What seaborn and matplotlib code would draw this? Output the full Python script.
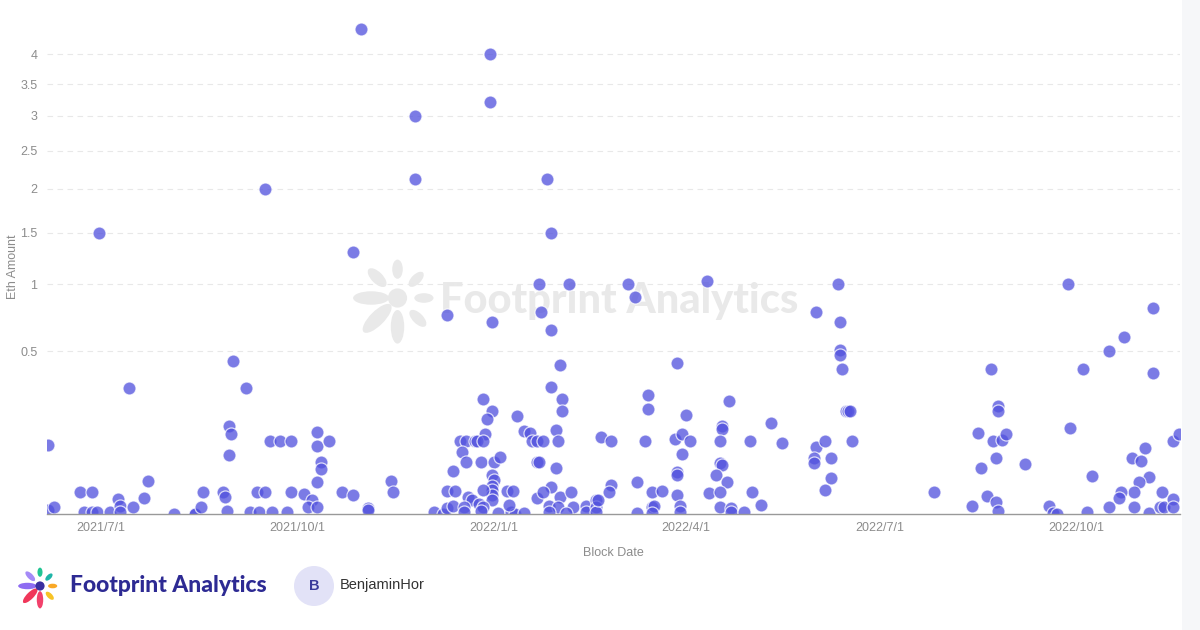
import numpy as np
import pandas as pd
import matplotlib.pyplot as plt
from matplotlib.patches import Ellipse, Circle, Rectangle
import seaborn as sns

# Block dates and eth amounts (one line of dates per line of values)
block_dates = [
    "2021-06-06", "2021-06-06", "2021-06-09", "2021-06-21", "2021-06-27", "2021-06-23", "2021-06-27", "2021-06-29",
    "2021-07-05", "2021-07-09", "2021-07-10", "2021-07-10", "2021-07-16", "2021-07-21", "2021-07-23", "2021-07-14", "2021-06-30",
    "2021-08-04", "2021-08-14", "2021-08-14", "2021-08-17", "2021-08-18", "2021-08-27", "2021-08-28", "2021-08-29",
    "2021-08-30", "2021-08-31", "2021-08-30", "2021-09-01", "2021-09-07", "2021-09-09", "2021-09-13", "2021-09-12",
    "2021-09-16", "2021-09-19", "2021-09-18", "2021-09-23", "2021-09-28", "2021-09-26", "2021-09-28", "2021-09-16",
    "2021-10-10", "2021-10-10", "2021-10-16", "2021-10-12", "2021-10-12", "2021-10-10", "2021-10-04", "2021-10-08",
    "2021-10-06", "2021-10-10", "2021-10-22", "2021-10-27", "2021-11-03", "2021-11-03", "2021-11-14", "2021-11-15",
    "2021-10-27", "2021-10-31", "2021-11-25", "2021-11-25", "2021-12-10",
    "2021-12-27", "2021-12-31", "2021-12-29", "2021-12-28", "2021-12-16", "2021-12-19", "2021-12-23", "2021-12-24",
    "2021-12-27", "2021-12-17", "2021-12-19", "2021-12-26", "2022-01-01", "2022-01-04", "2021-12-13", "2021-12-31",
    "2022-01-01", "2021-12-31", "2021-12-31", "2021-12-31", "2021-12-31", "2021-12-27", "2021-12-10", "2021-12-14",
    "2022-01-07", "2022-01-10", "2021-12-20", "2021-12-22", "2021-12-25", "2021-12-27", "2021-12-04", "2021-12-08",
    "2021-12-10", "2021-12-13", "2021-12-18", "2021-12-18", "2021-12-26", "2022-01-03", "2022-01-09", "2022-01-11",
    "2022-01-15", "2022-01-08",
    "2022-01-12", "2022-01-15", "2022-01-18", "2022-01-19", "2022-01-21", "2022-01-24", "2022-01-28", "2022-02-02",
    "2022-02-02", "2022-01-30", "2022-01-31", "2022-01-21", "2022-01-22", "2022-01-30", "2022-01-28", "2022-01-21",
    "2022-01-24", "2022-02-01", "2022-02-06", "2022-01-27", "2022-01-31", "2022-02-07", "2022-01-27", "2022-02-04",
    "2022-02-13", "2022-02-13", "2022-02-18", "2022-02-18", "2022-02-18", "2022-02-20", "2021-12-30", "2021-12-30",
    "2021-12-31", "2022-01-26", "2022-01-28", "2022-01-22", "2022-01-23", "2022-01-28", "2022-02-01", "2022-02-05",
    "2022-03-14", "2022-03-14", "2022-02-25", "2022-03-13", "2022-04-01", "2022-03-27", "2022-03-30", "2022-04-03",
    "2022-03-30", "2022-03-28", "2022-03-28", "2022-03-28", "2022-03-29", "2022-03-29", "2022-03-09", "2022-02-25",
    "2022-02-24", "2022-03-16", "2022-03-21", "2022-03-09", "2022-03-16", "2022-03-17", "2022-03-16", "2022-02-19",
    "2022-04-21", "2022-04-18", "2022-04-18", "2022-04-17", "2022-05-01", "2022-05-16", "2022-05-11", "2022-04-17",
    "2022-04-18", "2022-04-15", "2022-04-20", "2022-04-12", "2022-04-17", "2022-05-02", "2022-04-17", "2022-04-22",
    "2022-04-22", "2022-04-28", "2022-05-06", "2022-03-28", "2022-04-11", "2022-03-08", "2022-03-05",
    "2022-06-11", "2022-06-01", "2022-06-12", "2022-06-12", "2022-06-12", "2022-06-13", "2022-06-15", "2022-06-16",
    "2022-06-17", "2022-06-01", "2022-06-05", "2022-05-31", "2022-05-31", "2022-06-08", "2022-06-08", "2022-06-05",
    "2022-06-18", "2022-07-26", "2022-08-22", "2022-08-25", "2022-08-25", "2022-08-16", "2022-08-23", "2022-08-27",
    "2022-08-29", "2022-08-24", "2022-08-17", "2022-09-07", "2022-08-13", "2022-08-20", "2022-08-24", "2022-08-25",
    "2022-09-18", "2022-09-20", "2022-09-22",
    "2022-09-27", "2022-09-28", "2022-10-04", "2022-10-08", "2022-10-06", "2022-10-16", "2022-10-23", "2022-11-06",
    "2022-11-06", "2022-10-27", "2022-10-31", "2022-11-02", "2022-11-15", "2022-11-18", "2022-11-04", "2022-10-30",
    "2022-10-28", "2022-10-22", "2022-10-21", "2022-11-10", "2022-10-16", "2022-10-28", "2022-11-04", "2022-11-09",
    "2022-11-11", "2022-11-15", "2022-11-15",
]
eth_amount = [
    0.09, 0.0003, 0.001, 0.009, 0.009, 0.0001, 0.0001, 0.0001,
    0.0001, 0.004, 0.0012, 0.0001, 0.001, 0.005, 0.02, 0.3, 1.5,
    0.0, 0.0, 0.0, 0.001, 0.009, 0.009, 0.0055, 0.0002,
    0.148, 0.12, 0.066, 0.446, 0.3, 0.0001, 0.0001, 0.009,
    0.009, 0.0001, 0.1, 0.1, 0.1, 0.0001, 0.009, 2.0,
    0.128, 0.088, 0.1, 0.052, 0.039, 0.0195, 0.0076, 0.0037,
    0.001, 0.001, 0.009, 0.007, 0.0007, 0.0003, 0.021, 0.009,
    1.3, 4.45, 3.0, 2.12, 0.75,
    0.25, 0.2, 0.17, 0.122, 0.1, 0.1, 0.1, 0.1,
    0.1, 0.073, 0.052, 0.052, 0.052, 0.062, 0.035, 0.029,
    0.022, 0.015, 0.011, 0.007, 0.0037, 0.011, 0.01, 0.01,
    0.01, 0.01, 0.0055, 0.0037, 0.0019, 0.001, 0.0001, 0.0,
    0.0007, 0.0012, 0.001, 0.0001, 0.0002, 0.00002, 0.0001, 0.0,
    0.00002, 0.0015,
    0.18, 0.131, 0.125, 0.1, 0.1, 0.1, 0.303, 0.25,
    0.2, 0.1345, 0.1, 0.052, 0.052, 0.04, 0.014, 0.005,
    0.009, 0.0055, 0.009, 0.0012, 0.001, 0.001, 0.0001, 0.00002,
    0.0012, 0.0001, 0.0037, 0.001, 0.0001, 0.113, 4.0, 3.22,
    0.7, 2.12, 1.5, 1.0, 0.77, 0.64, 0.42, 1.0,
    0.27, 0.21, 0.1, 0.1, 0.187, 0.107, 0.122, 0.1,
    0.069, 0.034, 0.029, 0.007, 0.0012, 0.0001, 0.0195, 0.016,
    0.009, 0.009, 0.01, 0.00002, 0.001, 0.0012, 0.00002, 0.0037,
    0.24, 0.148, 0.138, 0.1, 0.1, 0.096, 0.158, 0.05,
    0.046, 0.029, 0.0195, 0.0084, 0.009, 0.009, 0.001, 0.0007,
    0.0001, 0.0001, 0.0015, 0.43, 1.03, 0.89, 1.0,
    1.0, 0.77, 0.7, 0.51, 0.48, 0.40, 0.2, 0.2,
    0.2, 0.086, 0.1, 0.06, 0.05, 0.06, 0.025, 0.011,
    0.1, 0.009, 0.40, 0.222, 0.2, 0.125, 0.1, 0.104,
    0.122, 0.06, 0.04, 0.0477, 0.0012, 0.006, 0.0027, 0.0002,
    0.0012, 0.00002, 0.0,
    1.0, 0.141, 0.40, 0.0275, 0.0001, 0.5, 0.59, 0.80,
    0.374, 0.06, 0.054, 0.083, 0.1, 0.122, 0.026, 0.0195,
    0.009, 0.009, 0.005, 0.009, 0.001, 0.001, 0.00002, 0.001,
    0.001, 0.004, 0.001,
]
x_ticks = ["2021-07-01", "2021-10-01", "2022-01-01", "2022-04-01", "2022-07-01", "2022-10-01"]
y_ticks = [0.5, 1, 1.5, 2, 2.5, 3, 3.5, 4]

df = pd.DataFrame({"block_date": pd.to_datetime(block_dates), "eth_amount": eth_amount})

sns.set_theme(style="white")
plt.rcParams["font.family"] = ["Liberation Sans", "DejaVu Sans"]

W, H = 1200, 630


def box(x0, y0, x1, y1):
    # pixel box (top-left origin) -> figure fraction rect
    return [x0 / W, 1 - y1 / H, (x1 - x0) / W, (y1 - y0) / H]


def draw_flower(a, petals, center_color):
    for ang, dist, length, width, col in petals:
        t = np.deg2rad(ang)
        a.add_patch(Ellipse((dist * np.cos(t), dist * np.sin(t)), length, width, angle=ang, color=col, lw=0))
    a.add_patch(Circle((0, 0), 0.2, color=center_color, lw=0))
    a.set_xlim(-1, 1)
    a.set_ylim(-1, 1)
    a.set_aspect("equal")
    a.axis("off")


fig = plt.figure(figsize=(12, 6.3), dpi=100)
fig.patch.set_facecolor("white")

# scrollbar-like strip on the right
fig.add_artist(Rectangle((1182 / W, 0), 18 / W, 1, transform=fig.transFigure, color="#f6f7f9", lw=0))

# watermark behind the plot
wm = fig.add_axes(box(345, 250, 450, 346), zorder=0)
grey = "#e9e9e9"
draw_flower(wm, [(180, 0.55, 0.75, 0.28, grey), (135, 0.6, 0.5, 0.24, grey), (90, 0.6, 0.4, 0.22, grey),
                 (45, 0.55, 0.4, 0.2, grey), (0, 0.55, 0.4, 0.2, grey), (-45, 0.6, 0.45, 0.22, grey),
                 (-90, 0.6, 0.7, 0.28, grey), (-135, 0.6, 0.8, 0.3, grey)], grey)
fig.text(440 / W, 1 - 301 / H, "Footprint Analytics", fontsize=30, fontweight=900, color=grey,
         family=["Lato", "DejaVu Sans"], ha="left", va="center", zorder=0)

ax = fig.add_axes(box(47, 20, 1180, 514), zorder=1)
ax.patch.set_visible(False)

sns.scatterplot(data=df, x="block_date", y="eth_amount", ax=ax, s=88, color="#5252de", alpha=0.76,
                edgecolor="white", linewidth=0.9, legend=False)

ax.set_yscale("function", functions=(lambda v: np.sqrt(np.clip(v, 0, None)), lambda v: np.square(v)))
ax.set_ylim(0, 4.62)
ax.set_xlim(pd.Timestamp("2021-06-05 17:00"), pd.Timestamp("2022-11-18 10:00"))

ax.set_yticks(y_ticks)
ax.set_yticklabels([f"{v:g}" for v in y_ticks])
ax.set_xticks(pd.to_datetime(x_ticks))
ax.set_xticklabels([f"{d.year}/{d.month}/{d.day}" for d in pd.to_datetime(x_ticks)])

ax.yaxis.grid(True, color="#e8e8e8", linestyle=(0, (5, 4)), linewidth=0.8)
ax.xaxis.grid(False)
for side in ["top", "right", "left"]:
    ax.spines[side].set_visible(False)
ax.spines["bottom"].set_color("#999999")
ax.spines["bottom"].set_linewidth(1)
ax.tick_params(axis="y", length=0, pad=7, labelsize=9, labelcolor="#8c8c8c")
ax.tick_params(axis="x", length=0, pad=6, labelsize=9, labelcolor="#8c8c8c")
ax.set_xlabel("Block Date", fontsize=9, color="#8c8c8c", labelpad=9)
ax.set_ylabel("Eth Amount", fontsize=9, color="#8c8c8c", labelpad=1)

# footer logo
logo = fig.add_axes(box(17, 563, 63, 609))
draw_flower(logo, [(180, 0.55, 0.8, 0.28, "#8e6cf2"), (135, 0.6, 0.55, 0.24, "#a58af7"),
                   (90, 0.6, 0.4, 0.22, "#22c493"), (45, 0.55, 0.4, 0.2, "#1fb5a8"),
                   (0, 0.55, 0.4, 0.2, "#f9a826"), (-45, 0.6, 0.45, 0.22, "#f7c325"),
                   (-90, 0.6, 0.75, 0.28, "#f2416b"), (-135, 0.6, 0.85, 0.3, "#f0375a")], "#3a2fa0")
fig.text(70 / W, 1 - 586 / H, "Footprint Analytics", fontsize=16.5, fontweight=900, color="#2d2a93",
         family=["Lato", "DejaVu Sans"], ha="left", va="center")

fig.add_artist(Ellipse((314 / W, 1 - 586 / H), 40 / W, 40 / H, transform=fig.transFigure, color="#e2e2f7", lw=0))
fig.text(314 / W, 1 - 586 / H, "B", fontsize=10.5, fontweight="bold", color="#3b3b9a", ha="center", va="center")
fig.text(340 / W, 1 - 585 / H, "BenjaminHor", fontsize=10.5, color="#333333", ha="left", va="center")

fig.savefig("out.png", dpi=100, facecolor="white")
